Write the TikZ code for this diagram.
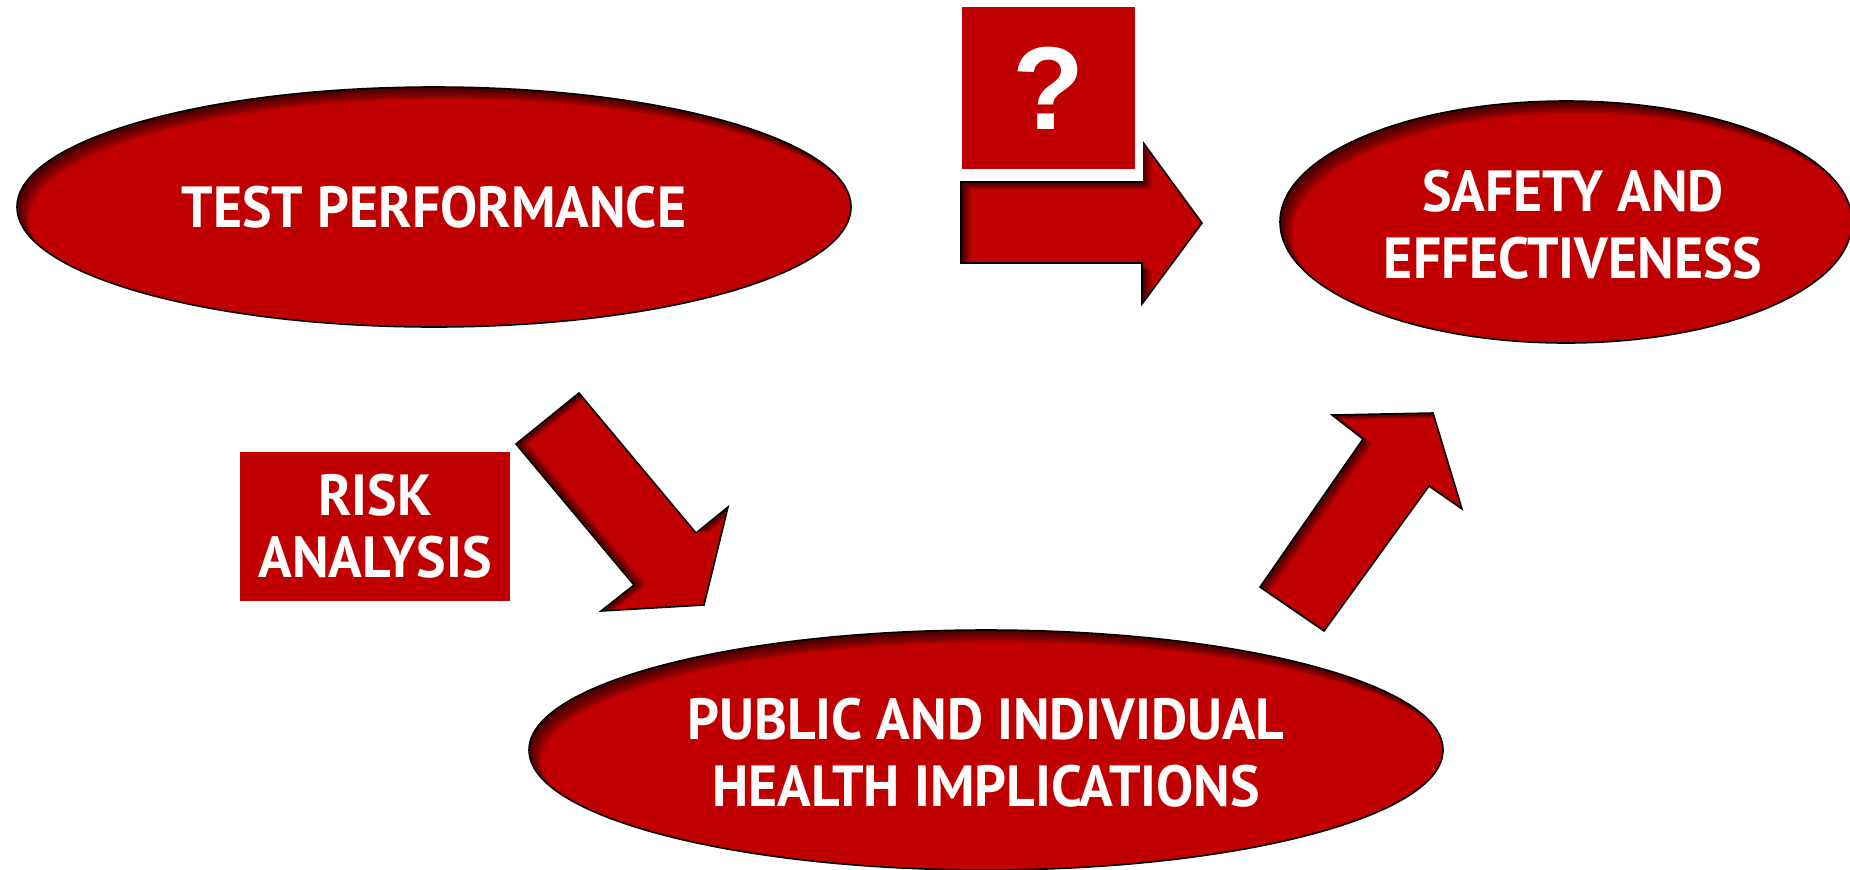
\documentclass[tikz,border=0pt]{standalone}
\usepackage{fontspec}
\setmainfont{PT Sans}[FakeStretch=0.96]
\newfontfamily\qfont{Liberation Sans}
\definecolor{ovalred}{RGB}{192,0,0}

\tikzset{
  lbl/.style={text=white, font=\bfseries\fontsize{29}{33.5}\selectfont, align=center},
  box/.style={fill=ovalred, inner sep=0pt},
  rim/.style={draw=black, line width=0.8pt},
}

% soft inner shadow: darken what a shifted copy of the shape leaves open
\newcommand\innershade[3]{%
  \begin{scope}
    \clip #1;
    \foreach \k in {1,...,6}{
      \begin{scope}[shift={(#2*\k,#3*\k)}]
        \fill[black, opacity=.14, even odd rule] (-200,-200) rectangle (2100,1100) #1;
      \end{scope}
    }
  \end{scope}}

\begin{document}
\begin{tikzpicture}[x=0.5pt, y=-0.5pt]
		\useasboundingbox (0,0) rectangle (1850,869);
		\def\perfoval{(434,207) ellipse [x radius=417, y radius=120]}
		\def\safeoval{(1566,222) ellipse [x radius=286, y radius=121]}
		\def\healthoval{(986,750) ellipse [x radius=457, y radius=120]}
		\def\rightarr{(961,182) -- (1142,182) -- (1142,141) -- (1202,223) -- (1142,304) -- (1142,263) -- (961,263) -- cycle}
		\def\downarr{(516,444) -- (579,393) -- (696,533) -- (728,507) -- (704,605) -- (601,611) -- (634,585) -- cycle}
		\def\uparr{(1260,587) -- (1363,439) -- (1332,415) -- (1433,413) -- (1462,509) -- (1429,486) -- (1324,631) -- cycle}
		% ovals
		\fill[ovalred] \perfoval; \innershade{\perfoval}{2}{2} \draw[rim] \perfoval;
		\fill[ovalred] \safeoval; \innershade{\safeoval}{2}{2} \draw[rim] \safeoval;
		\fill[ovalred] \healthoval; \innershade{\healthoval}{2}{2} \draw[rim] \healthoval;
		% block arrows
		\fill[ovalred] \rightarr; \innershade{\rightarr}{1.6}{1.2} \draw[rim] \rightarr;
		\fill[ovalred] \downarr; \innershade{\downarr}{2}{0} \draw[rim] \downarr;
		\fill[ovalred] \uparr; \innershade{\uparr}{1.6}{0.8} \draw[rim] \uparr;
		% labels
		\node[lbl] (perf) at (434,207) {TEST PERFORMANCE};
		\node[lbl] (safety) at (1573,225) {SAFETY AND\\EFFECTIVENESS};
		\node[lbl] (health) at (986,753) {PUBLIC AND INDIVIDUAL\\HEALTH IMPLICATIONS};
		\fill[white] (955,-1) rectangle (1143,181);
		\node[box, minimum width=86.5pt, minimum height=81pt, text=white, font=\qfont\bfseries\fontsize{59}{60}\selectfont] (quest) at (1048.5,88) {?};
		\node[box, lbl, minimum width=135pt, minimum height=74.5pt, font=\bfseries\fontsize{29}{31}\selectfont] (risk) at (375,526.5) {RISK\\ANALYSIS};
\end{tikzpicture}
\end{document}
